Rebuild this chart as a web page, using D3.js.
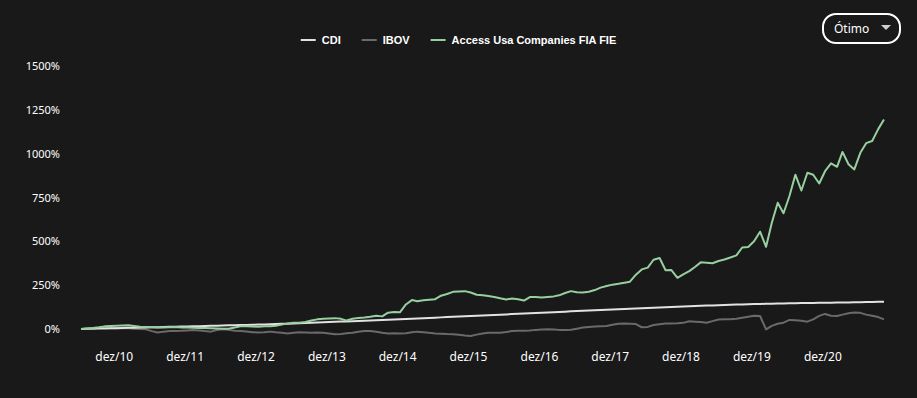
<!DOCTYPE html>
<html>
<head>
<meta charset="utf-8">
<script src="https://cdn.jsdelivr.net/npm/d3@7"></script>
<style>
  html, body { margin: 0; padding: 0; background: #191919; }
  svg { display: block; }
</style>
</head>
<body>
<svg id="chart"></svg>
<script>
var width = 917;
var height = 398;

// series names, as in the legend
var seriesNames = ["CDI", "IBOV", "Access Usa Companies FIA FIE"];
var seriesColors = ["#e2e2e2", "#6a6a6a", "#97cf9f"];

// monthly points, mid-month, from jun/2010 to oct/2021
var firstMonth = "2010-06-15";

// cumulative return (%)
var cdi = [
  0, 0.8, 1.6, 2.5, 3.3, 4.1, 4.9, 5.7, 6.6, 7.4,
  8.2, 9.0, 9.8, 10.6, 11.5, 12.3, 13.1, 13.9, 14.7, 15.5,
  16.4, 17.2, 18.0, 18.9, 19.8, 20.7, 21.6, 22.5, 23.5, 24.4,
  25.3, 26.2, 27.1, 28.0, 29.3, 30.6, 31.8, 33.1, 34.4, 35.7,
  37.0, 38.2, 39.5, 40.8, 42.1, 43.3, 44.6, 45.9, 47.2, 48.4,
  49.7, 51.0, 52.5, 54.1, 55.6, 57.1, 58.6, 60.2, 61.7, 63.2,
  64.8, 66.3, 67.8, 69.4, 70.9, 72.4, 73.9, 75.5, 77.0, 78.6,
  80.1, 81.7, 83.3, 84.9, 86.4, 88.0, 89.6, 91.1, 92.7, 94.3,
  95.9, 97.4, 99.0, 100.6, 102.1, 103.7, 105.3, 106.9, 108.4, 110.0,
  111.5, 113.0, 114.5, 116.0, 117.5, 118.9, 120.3, 121.7, 123.1, 124.5,
  125.9, 127.3, 128.6, 130.0, 131.2, 132.4, 133.6, 134.7, 135.8, 136.9,
  138.0, 139.1, 140.1, 141.1, 142.1, 143.0, 143.9, 144.7, 145.4, 146.0,
  146.6, 147.1, 147.6, 148.1, 148.6, 149.1, 149.6, 150.1, 150.6, 151.1,
  151.7, 152.3, 152.9, 153.6, 154.3, 155.1, 156.0
];

var ibov = [
  0, 3, 5, 6, 5, 4, 5, 4, 4, 2,
  0, -2, -12, -20, -15, -12, -11, -10, -8, -6,
  -8, -12, -15, -6, -1, -5, -10, -11, -14, -18,
  -20, -19, -15, -19, -22, -25, -22, -19, -20, -21,
  -20, -22, -26, -30, -28, -24, -21, -16, -12, -11,
  -16, -22, -25, -24, -25, -24, -19, -15, -18, -22,
  -25, -27, -29, -30, -33, -37, -40, -32, -26, -22,
  -22, -21, -17, -12, -10, -10, -8, -5, -3, -2,
  -3, -5, -6, -4, 2, 8, 12, 14, 16, 17,
  24, 30, 32, 30, 28, 10, 12, 23, 27, 31,
  32, 33, 35, 44, 42, 40, 36, 45, 54, 55,
  55, 58, 64, 70, 76, 74, -2, 18, 30, 36,
  52, 50, 47, 42, 55, 75, 86, 76, 74, 82,
  90, 94, 92, 82, 76, 68, 55
];

var fund = [
  0, 3, 6, 10, 15, 17, 19, 20, 21, 17,
  13, 12, 10, 8, 9, 10, 11, 9, 8, 7,
  6, 5, 4, 3, 1, 1, 8, 15, 16, 14,
  13, 15, 16, 18, 25, 32, 36, 36, 40, 48,
  55, 58, 60, 62, 58, 48, 58, 63, 66, 70,
  76, 72, 93, 97, 95, 140, 165, 158, 164, 167,
  170, 190, 200, 212, 214, 216, 208, 195, 192, 188,
  183, 175, 168, 174, 170, 162, 182, 183, 180, 183,
  186, 192, 205, 216, 210, 208, 212, 222, 236, 245,
  253, 258, 264, 270, 310, 340, 350, 395, 405, 335,
  336, 292, 312, 330, 355, 380, 378, 375, 388, 396,
  408, 420, 465, 468, 500, 555, 469, 603, 720, 660,
  760, 880, 790, 891, 880, 830, 900, 945, 925, 1010,
  940, 910, 1005, 1060, 1072, 1140, 1195
];

var yTicks = [0, 250, 500, 750, 1000, 1250, 1500];
var xTickYears = [2010, 2011, 2012, 2013, 2014, 2015, 2016, 2017, 2018, 2019, 2020];
var periodLabel = "Ótimo";

var months = d3.range(cdi.length).map(function(i) {
  return d3.timeMonth.offset(new Date(firstMonth + "T00:00:00"), i);
});

var series = [cdi, ibov, fund].map(function(values, k) {
  return {
    name: seriesNames[k],
    color: seriesColors[k],
    points: values.map(function(v, i) { return {date: months[i], value: v}; })
  };
});

var svg = d3.select("#chart").attr("width", width).attr("height", height);

svg.append("rect").attr("width", width).attr("height", height).attr("fill", "#191919");

var x = d3.scaleTime()
  .domain([months[0], months[months.length - 1]])
  .range([81, 884]);

var y = d3.scaleLinear()
  .domain([0, 1500])
  .range([329, 66]);

var font = "'Noto Sans', 'Liberation Sans', Arial, sans-serif";
var legendFont = "'Liberation Sans', Arial, sans-serif";

// y axis labels, no line and no grid
var yAxis = svg.append("g")
  .attr("transform", "translate(60,0)")
  .call(d3.axisLeft(y).tickValues(yTicks).tickSize(0).tickPadding(0)
    .tickFormat(function(d) { return d + "%"; }));
yAxis.select(".domain").remove();
yAxis.selectAll("text")
  .attr("fill", "#ffffff")
  .style("font-family", font)
  .style("font-size", "11px");

// x axis labels at each december
var xAxis = svg.append("g")
  .attr("transform", "translate(0,352)")
  .call(d3.axisBottom(x)
    .tickValues(xTickYears.map(function(yr) { return new Date(yr, 11, 1); }))
    .tickSize(0).tickPadding(0)
    .tickFormat(function(d) { return "dez/" + String(d.getFullYear()).slice(2); }));
xAxis.select(".domain").remove();
xAxis.selectAll("text")
  .attr("fill", "#ffffff")
  .style("font-family", font)
  .style("font-size", "12px");

var line = d3.line()
  .x(function(d) { return x(d.date); })
  .y(function(d) { return y(d.value); })
  .curve(d3.curveLinear);

// ibov first, then cdi, fund on top
[series[1], series[0], series[2]].forEach(function(s) {
  svg.append("path")
    .datum(s.points)
    .attr("fill", "none")
    .attr("stroke", s.color)
    .attr("stroke-width", 2)
    .attr("stroke-linejoin", "round")
    .attr("d", line);
});

// legend, centered on top
var legend = svg.append("g").attr("transform", "translate(0,40)");
var cursor = 0;
series.forEach(function(s, i) {
  var item = legend.append("g").attr("transform", "translate(" + cursor + ",0)");
  item.append("line")
    .attr("x1", 0).attr("x2", 15)
    .attr("y1", 0).attr("y2", 0)
    .attr("stroke", s.color).attr("stroke-width", 2);
  var t = item.append("text")
    .attr("x", 21).attr("dy", "0.35em")
    .attr("fill", "#ffffff")
    .style("font-family", legendFont)
    .style("font-size", "11px")
    .style("font-weight", "bold")
    .text(s.name);
  cursor += 21 + t.node().getComputedTextLength() + 21;
});
var legendWidth = cursor - 21;
legend.attr("transform", "translate(" + (width / 2 - legendWidth / 2) + ",40)");

// period selector
var sel = svg.append("g").attr("transform", "translate(823,14)");
sel.append("rect")
  .attr("width", 77).attr("height", 29)
  .attr("rx", 13).attr("ry", 13)
  .attr("fill", "#191919")
  .attr("stroke", "#ffffff").attr("stroke-width", 2);
sel.append("text")
  .attr("x", 11).attr("y", 14.5).attr("dy", "0.35em")
  .attr("fill", "#ffffff")
  .style("font-family", font)
  .style("font-size", "12px")
  .text(periodLabel);
sel.append("path")
  .attr("d", "M58,11 L68,11 L63,16 Z")
  .attr("fill", "#cfcfcf");
</script>
</body>
</html>
